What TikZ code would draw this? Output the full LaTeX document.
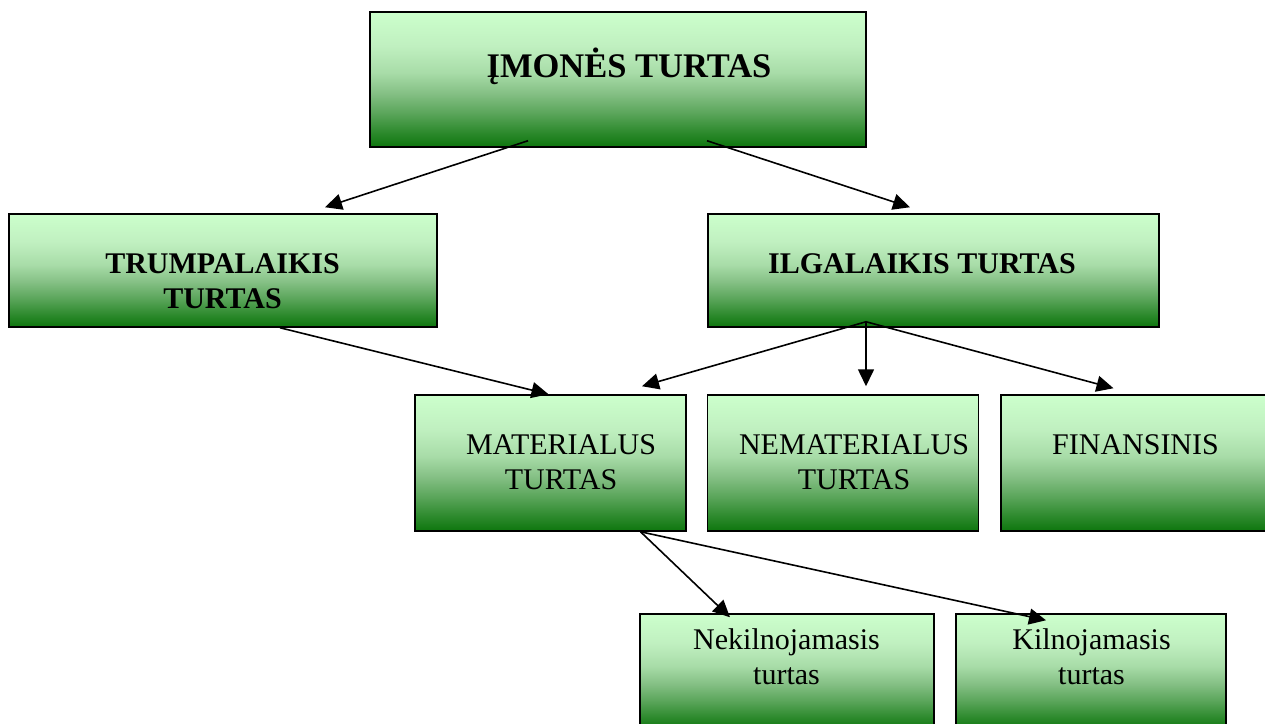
\documentclass[tikz,border=0pt]{standalone}
\usepackage{fontspec}
\setmainfont{Liberation Serif}
\usetikzlibrary{arrows.meta}
\definecolor{paleleaf}{HTML}{CCFFCC}
\definecolor{leafa}{HTML}{C0F0C0}
\definecolor{leafb}{HTML}{A8DCA8}
\definecolor{leafc}{HTML}{85C085}
\definecolor{leafd}{HTML}{5AA55A}
\definecolor{leafe}{HTML}{2A882A}
\definecolor{darkleaf}{HTML}{0E760E}
\pgfdeclareverticalshading{leafshade}{100bp}{color(0bp)=(darkleaf); color(25bp)=(darkleaf);
  color(30bp)=(leafe); color(37.5bp)=(leafd); color(45bp)=(leafc); color(52.5bp)=(leafb);
  color(62.5bp)=(leafa); color(75bp)=(paleleaf); color(100bp)=(paleleaf)}

\begin{document}
\begin{tikzpicture}[x=1pt,y=1pt,
  box/.style={draw,line width=1.5pt,shading=leafshade,inner sep=0pt},
  headtxt/.style={font=\bfseries\fontsize{34.5}{40}\selectfont,inner sep=0pt},
  twotxt/.style={font=\bfseries\fontsize{30}{35}\selectfont,align=center,inner sep=0pt},
  leaftxt/.style={font=\fontsize{30}{35}\selectfont,align=center,inner sep=0pt},
  arr/.style={-{Triangle[length=17pt,width=16pt]},line width=1.6pt}]
\useasboundingbox (0,0) rectangle (1265,-723);
% boxes
\node[box,minimum width=496,minimum height=135] (imone) at (618,-79.5) {};
\node[box,minimum width=428,minimum height=113] (trump) at (223,-270.5) {};
\node[box,minimum width=451,minimum height=113] (ilga) at (933.5,-270.5) {};
\node[box,minimum width=271,minimum height=136] (mat) at (550.5,-463) {};
\node[box,minimum width=271,minimum height=136] (nemat) at (843,-463) {};
\node[box,minimum width=271,minimum height=136] (fin) at (1136.5,-463) {};
\node[box,minimum width=294,minimum height=116] (nekil) at (787,-672) {};
\node[box,minimum width=270,minimum height=116] (kilno) at (1091,-672) {};
% texts
\node[headtxt] (imone-t) at (629,-66) {ĮMONĖS TURTAS};
\node[twotxt] (trump-t) at (222.5,-281.5) {TRUMPALAIKIS\\TURTAS};
\node[twotxt] (ilga-t) at (922,-263.5) {ILGALAIKIS TURTAS};
\node[leaftxt] (mat-t) at (561,-462) {MATERIALUS\\TURTAS};
\node[leaftxt] (nemat-t) at (854,-462) {NEMATERIALUS\\TURTAS};
\node[leaftxt] (fin-t) at (1135.5,-444.5) {FINANSINIS};
\node[leaftxt] (nekil-t) at (786.5,-657) {Nekilnojamasis\\turtas};
\node[leaftxt] (kilno-t) at (1091.5,-657) {Kilnojamasis\\turtas};
% connectors
\draw[arr] ([shift={(-90,7)}]imone.south) -- ([shift={(102,6)}]trump.north);
\draw[arr] ([shift={(89,7)}]imone.south) -- ([shift={(-23.5,6)}]ilga.north);
\draw[arr] ([xshift=57]trump.south) -- ([xshift=-2]mat.north);
\draw[arr] ([shift={(-67.5,6)}]ilga.south) -- ([shift={(91.5,8)}]mat.north);
\draw[arr] ([shift={(-67.5,6)}]ilga.south) -- ([shift={(23,8)}]nemat.north);
\draw[arr] ([shift={(-67.5,6)}]ilga.south) -- ([shift={(-23,6)}]fin.north);
\draw[arr] ([xshift=90]mat.south) -- ([shift={(-57,-4)}]nekil.north);
\draw[arr] ([xshift=90]mat.south) -- ([shift={(-45,-7)}]kilno.north);
\end{tikzpicture}
\end{document}
